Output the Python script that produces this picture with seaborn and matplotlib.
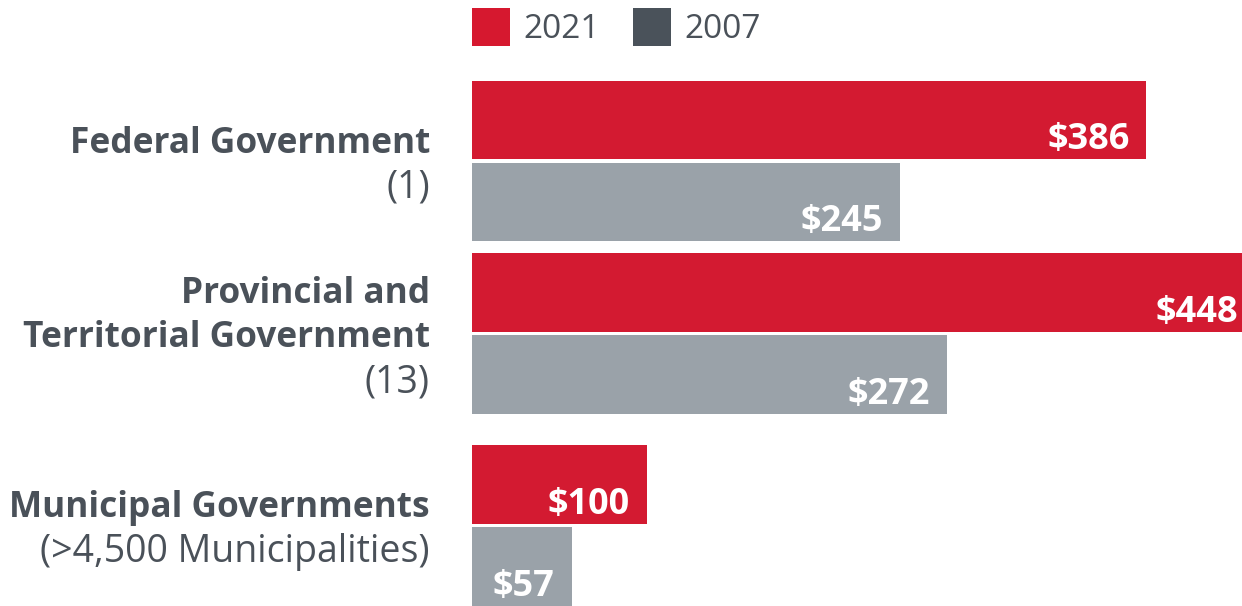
"""
Government spending, 2021 vs 2007, grouped horizontal bars
"""
import matplotlib
matplotlib.use('Agg')
from matplotlib.patches import Patch
from matplotlib.pyplot import figure
from pandas import DataFrame
from seaborn import barplot
from seaborn import set_theme

CATEGORY_TITLES = [['Federal Government'],
                   ['Provincial and', 'Territorial Government'],
                   ['Municipal Governments']]
CATEGORY_NOTES = ['(1)', '(13)', '(>4,500 Municipalities)']
YEARS = ['2021', '2007']
VALUES_2021 = [386, 448, 100]
VALUES_2007 = [245, 272, 57]

# layout: group centres on the y axis (the gap before the last group is wider)
GROUP_POS = [0.0, 1.0, 2.113]
BAR_COLORS = {'2021': '#d31a31', '2007': '#9aa2a9'}
LEGEND_COLORS = ['#d6182f', '#4a525a']
TEXT_COLOR = '#4a5159'
DPI = 100
PX = 72 / DPI  # points per pixel

set_theme(style='white')
matplotlib.rcParams['font.family'] = ['Open Sans', 'DejaVu Sans']

rows = []
for pos, v21, v07 in zip(GROUP_POS, VALUES_2021, VALUES_2007):
    rows.append({'pos': pos, 'year': '2021', 'value': v21})
    rows.append({'pos': pos, 'year': '2007', 'value': v07})
df = DataFrame(rows)

fig = figure(figsize=(12.42, 6.06), dpi=DPI)
ax = fig.add_axes([472 / 1242, 0, 770 / 1242, 1])
barplot(data=df, x='value', y='pos', hue='year', hue_order=YEARS, palette=BAR_COLORS,
        orient='y', native_scale=True, dodge=True, width=0.95, gap=0.04,
        legend=False, ax=ax, saturation=1, linewidth=0, errorbar=None)
ax.set_xlim(0, 440.7)
ax.set_ylim(2.580, -0.933)
ax.axis('off')

# value labels, white, near the bottom right of each bar
for container in ax.containers:
    for bar in container:
        ax.annotate('${:.0f}'.format(bar.get_width()),
                    xy=(bar.get_x() + bar.get_width(), bar.get_y() + bar.get_height()),
                    xytext=(-17 * PX, 10 * PX), textcoords='offset points',
                    ha='right', va='baseline', color='white', fontsize=26,
                    fontweight='bold', annotation_clip=False)

# category labels, right aligned left of the bars
line_pitch = 44 * PX
for pos, titles, note in zip(GROUP_POS, CATEGORY_TITLES, CATEGORY_NOTES):
    lines = [(t, 'bold', 25.4) for t in titles] + [(note, 'normal', 27)]
    n = len(lines)
    for i, (text, weight, size) in enumerate(lines):
        dy = -(i - (n - 1) / 2) * line_pitch - 5 * PX
        ax.annotate(text, xy=(0, pos), xycoords=('axes fraction', 'data'),
                    xytext=(-42 * PX, dy), textcoords='offset points',
                    ha='right', va='center', color=TEXT_COLOR, fontsize=size,
                    fontweight=weight, annotation_clip=False)

handles = [Patch(facecolor=c, edgecolor='none') for c in LEGEND_COLORS]
ax.legend(handles, YEARS, loc='upper left', bbox_to_anchor=(0, 0.987), ncol=2,
          frameon=False, fontsize=24, handlelength=1.14, handleheight=1.38,
          handletextpad=0.4, columnspacing=1.0, borderaxespad=0, borderpad=0,
          labelcolor=TEXT_COLOR)

fig.savefig('out.png', dpi=DPI)
